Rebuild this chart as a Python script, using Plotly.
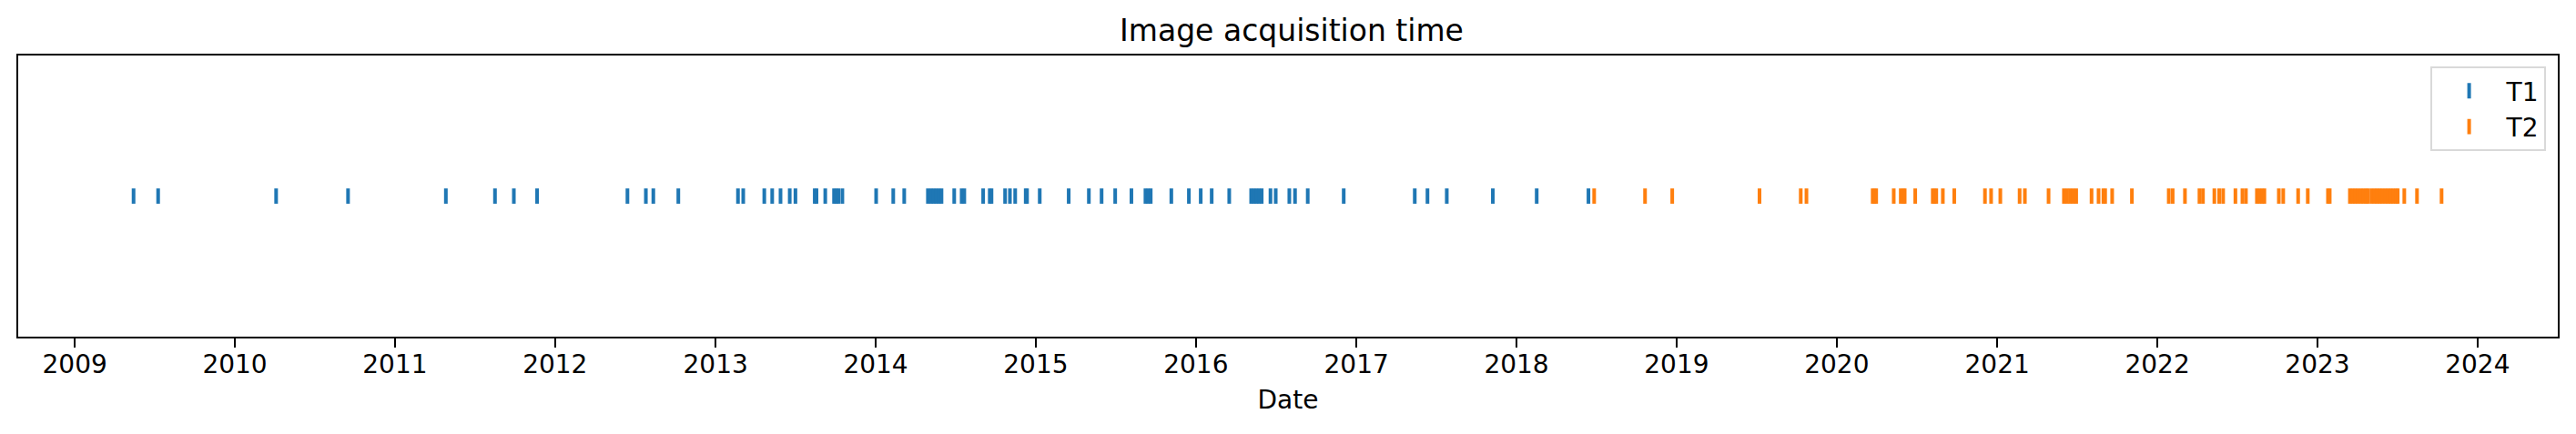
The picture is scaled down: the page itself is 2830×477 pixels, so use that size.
import plotly.graph_objects as go

# acquisition dates
t1_dates = [
    "2009-05-15", "2009-07-10", "2010-04-05", "2010-09-16",
    "2011-04-27", "2011-08-17", "2011-09-29", "2011-11-21",
    "2012-06-14", "2012-07-26", "2012-08-12", "2012-10-08",
    "2013-02-21", "2013-03-05", "2013-04-22", "2013-05-10", "2013-05-29",
    "2013-06-19", "2013-07-02", "2013-08-15", "2013-08-19", "2013-09-08",
    "2013-09-28", "2013-10-03", "2013-10-08", "2013-10-17",
    "2014-01-02", "2014-02-10", "2014-03-07", "2014-04-30", "2014-05-07",
    "2014-05-13", "2014-05-19", "2014-05-25", "2014-05-31", "2014-06-29",
    "2014-07-16", "2014-07-22", "2014-09-03", "2014-09-18", "2014-09-22",
    "2014-10-23", "2014-11-03", "2014-11-15", "2014-12-09", "2014-12-12",
    "2015-01-10", "2015-03-17", "2015-05-02", "2015-05-31", "2015-07-01",
    "2015-08-07", "2015-09-08", "2015-09-14", "2015-09-20", "2015-11-06",
    "2015-12-16",
    "2016-01-12", "2016-02-06", "2016-03-17", "2016-05-06", "2016-05-12",
    "2016-05-18", "2016-05-24", "2016-05-30", "2016-06-19", "2016-07-01",
    "2016-08-01", "2016-08-14", "2016-09-12", "2016-12-03",
    "2017-05-14", "2017-06-12", "2017-07-26", "2017-11-08",
    "2018-02-16", "2018-06-14",
]

t2_dates = [
    "2018-06-27", "2018-10-21", "2018-12-22",
    "2019-07-09", "2019-10-11", "2019-10-24",
    "2020-03-23", "2020-03-27", "2020-03-31", "2020-05-10", "2020-05-26",
    "2020-06-01", "2020-06-04", "2020-06-28", "2020-08-07", "2020-08-11",
    "2020-08-15", "2020-08-30", "2020-09-25", "2020-12-04", "2020-12-18",
    "2021-01-08", "2021-02-21", "2021-03-05", "2021-04-28", "2021-06-02",
    "2021-06-09", "2021-06-16", "2021-06-23", "2021-06-30", "2021-08-04",
    "2021-08-20", "2021-08-31", "2021-09-04", "2021-09-20", "2021-11-04",
    "2022-01-27", "2022-02-05", "2022-03-05", "2022-04-07", "2022-04-15",
    "2022-05-11", "2022-05-22", "2022-05-31", "2022-06-28", "2022-07-14",
    "2022-07-22", "2022-08-16", "2022-08-22", "2022-08-28", "2022-09-02",
    "2022-10-05", "2022-10-15", "2022-11-18", "2022-12-10",
    "2023-01-25", "2023-01-29", "2023-03-16", "2023-03-22", "2023-03-28",
    "2023-04-03", "2023-04-10", "2023-04-16", "2023-04-22", "2023-04-26",
    "2023-05-04", "2023-05-11", "2023-05-17", "2023-05-23", "2023-05-29",
    "2023-06-05", "2023-06-11", "2023-06-17", "2023-06-23", "2023-06-29",
    "2023-07-03", "2023-07-18", "2023-08-16", "2023-10-11",
]

series = [("T1", t1_dates, "#1f77b4"), ("T2", t2_dates, "#ff7f0e")]

fig = go.Figure()
for name, dates, col in series:
    fig.add_trace(go.Scatter(
        x=dates, y=[0] * len(dates), mode="markers", name=name,
        marker=dict(symbol="line-ns", size=12, color=col,
                    line=dict(width=4, color=col)),
    ))

# page body adds an 8px margin, so the figure is 8px smaller on each side
fig.update_layout(
    width=2822, height=469,
    margin=dict(l=12, r=20, t=53, b=107, autoexpand=False),
    paper_bgcolor="white", plot_bgcolor="white",
    font=dict(family="DejaVu Sans", size=28, color="black"),
    title=dict(text="Image acquisition time", x=0.5, xanchor="center",
               y=0.945, yanchor="middle", yref="container",
               font=dict(size=33)),
    legend=dict(x=0.9952, y=0.961, xanchor="right", yanchor="top",
                bordercolor="#d9d9d9", borderwidth=2, bgcolor="white",
                itemwidth=72, font=dict(size=28)),
    showlegend=True,
)
fig.update_xaxes(
    type="date", range=["2008-08-25", "2024-07-02"],
    tick0="2009-01-01", dtick="M12", tickformat="%Y",
    ticks="outside", ticklen=10, tickwidth=2, tickcolor="black",
    ticklabelstandoff=-6,
    showline=True, linecolor="black", linewidth=2, mirror=True,
    showgrid=False, zeroline=False, automargin=False,
    title=dict(text="Date", standoff=14, font=dict(size=28)),
)
fig.update_yaxes(
    range=[-1, 1], showticklabels=False, ticks="",
    showline=True, linecolor="black", linewidth=2, mirror=True,
    showgrid=False, zeroline=False, automargin=False,
)

fig.write_html("out.html")
